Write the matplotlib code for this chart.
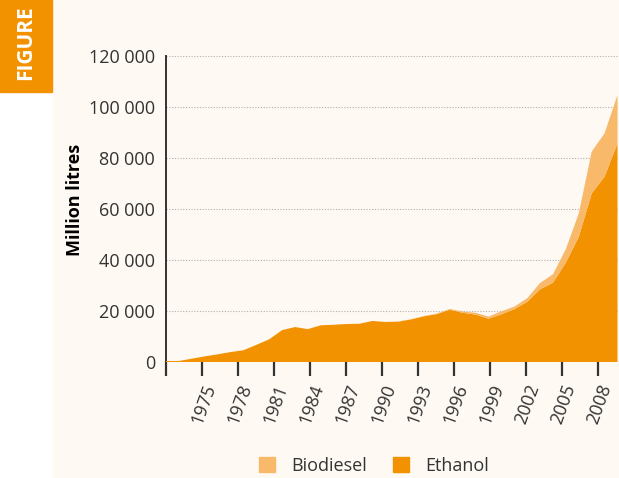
import matplotlib.pyplot as plt
import numpy as np
from matplotlib.patches import Patch, Rectangle

plt.rcParams["font.family"] = ["Open Sans", "DejaVu Sans"]

# Production in million litres, one value per data point (left to right)
ethanol = [
    400, 400, 1300, 2200, 3000, 3900, 4600, 6700, 8900, 12500,
    13700, 12900, 14400, 14600, 14900, 15000, 16100, 15700, 15800, 16700,
    17900, 18800, 20500, 19300, 18600, 17000, 18700, 20700, 23600, 28500,
    31100, 39000, 49100, 66100, 72700, 85800,
]
biodiesel = [
    0, 0, 0, 0, 0, 0, 0, 0, 0, 0,
    0, 0, 0, 0, 0, 0, 0, 0, 100, 100,
    150, 200, 300, 500, 700, 800, 1200, 1000, 1400, 2500,
    3300, 5300, 9200, 16400, 17000, 18900,
]
tick_years = [1972, 1975, 1978, 1981, 1984, 1987, 1990, 1993, 1996, 1999, 2002, 2005, 2008]
y_ticks = [0, 20000, 40000, 60000, 80000, 100000, 120000]

ETHANOL = "#f39200"
BIODIESEL = "#f8b96b"
CREAM = "#fef9f3"
TEXT = "#333333"

W, H = 619, 478
fig = plt.figure(figsize=(W / 100, H / 100), dpi=100)
fig.patch.set_facecolor(CREAM)

# left margin strip and the orange figure tab
fig.add_artist(Rectangle((0, 0), 52 / W, 1, transform=fig.transFigure, color="white", zorder=0))
fig.add_artist(Rectangle((0, 1 - 92 / H), 52 / W, 92 / H, transform=fig.transFigure, color=ETHANOL, zorder=1))
fig.text(25.5 / W, 1 - 80 / H, "FIGURE", rotation=90, color="white", fontsize=15,
         fontweight="bold", ha="center", va="bottom")

ax = fig.add_axes([166 / W, (H - 362) / H, 453 / W, 306 / H])
ax.set_facecolor(CREAM)

# data points are spaced a little wider than one tick-year in the original
x = 1972 + np.arange(len(ethanol)) * 12.9 / 12
ax.stackplot(x, ethanol, biodiesel, colors=[ETHANOL, BIODIESEL], linewidth=0, zorder=3)

ax.set_xlim(1972, 1972 + 453 / 12)
ax.set_ylim(0, 120000)

ax.set_yticks(y_ticks)
ax.set_yticklabels([f"{v:,}".replace(",", " ") for v in y_ticks])
ax.set_xticks(tick_years)
ax.set_xticklabels([""] + [str(y) for y in tick_years[1:]], rotation=70,
                   ha="right", va="top", rotation_mode="anchor")

ax.yaxis.grid(True, linestyle=(0, (1, 1.5)), color="#b0b0b0", linewidth=0.8, zorder=1)
ax.set_axisbelow(True)

for side in ["top", "right", "bottom"]:
    ax.spines[side].set_visible(False)
ax.spines["left"].set_color("#333333")
ax.spines["left"].set_linewidth(1.4)

ax.tick_params(axis="y", length=0, pad=8, labelsize=13, labelcolor=TEXT)
ax.tick_params(axis="x", length=10, width=1.6, color="#333333", pad=4,
               labelsize=13, labelcolor=TEXT)

fig.text(75 / W, 1 - 200 / H, "Million litres", rotation=90, fontsize=13,
         fontweight="bold", color="black", ha="center", va="center")

handles = [Patch(color=BIODIESEL, label="Biodiesel"), Patch(color=ETHANOL, label="Ethanol")]
fig.legend(handles=handles, loc="center", bbox_to_anchor=(374 / W, 1 - 466 / H), ncol=2,
           frameon=False, fontsize=13, labelcolor=TEXT, handlelength=0.9, handleheight=0.9,
           handletextpad=0.9, columnspacing=1.4)

fig.savefig("out.png", dpi=100, facecolor=CREAM)
